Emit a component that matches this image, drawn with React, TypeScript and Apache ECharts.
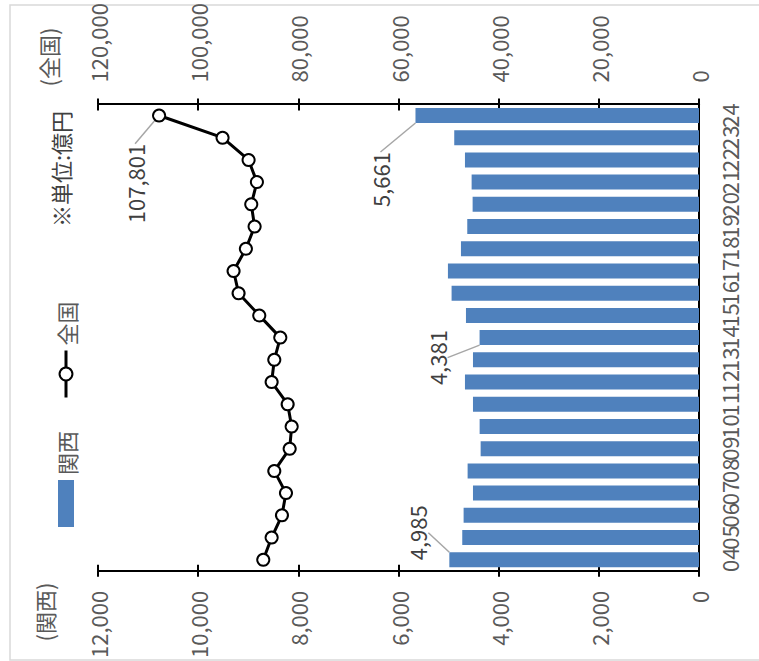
import React, { useEffect, useRef } from 'react';
import * as echarts from 'echarts';

// ---- data ----
const categories = ['04', '05', '06', '07', '08', '09', '10', '11', '12', '13', '14', '15', '16', '17', '18', '19', '20', '21', '22', '23', '24'];
const kansai = [4985, 4727, 4700, 4513, 4620, 4360, 4380, 4513, 4673, 4513, 4381, 4653, 4940, 5013, 4753, 4627, 4520, 4540, 4673, 4887, 5661];
const zenkoku = [87000, 85330, 83270, 82470, 84800, 81730, 81330, 82130, 85330, 84800, 83600, 87800, 91930, 92930, 90470, 88730, 89400, 88270, 89930, 95130, 107801];
const kansaiAxis = [0, 12000, 2000]; // min, max, interval
const zenkokuAxis = [0, 120000, 20000];
const kansaiLabeled = [0, 10, 20];
const zenkokuLabeled = [20];
const seriesNames = ['関西', '全国'];
const unitText = '※単位:億円';
const kansaiAxisTitle = '(関西)';
const zenkokuAxisTitle = '(全国)';

// ---- styles ----
const NUM_FONT = '"Liberation Sans Narrow", "Arial Narrow", "Noto Sans CJK JP", sans-serif';
const JP_FONT = '"Noto Sans CJK JP", sans-serif';
const GRAY = '#595959';
const barLabelOffsets: Record<number, [number, number]> = { 0: [27, -16], 10: [-20, -27], 20: [-64, -19] };
const lineLabelOffsets: Record<number, [number, number]> = { 20: [-68, -1] };

const fmt = (v: number) => Number(v).toLocaleString('en-US');

const W = 661; // unrotated chart width
const H = 759; // unrotated chart height

export default function App() {
  const ref = useRef<HTMLDivElement>(null);

  useEffect(() => {
    if (!ref.current) return;
    const chart = echarts.init(ref.current, undefined, { renderer: 'svg', width: W, height: H });

    const axisLineStyle = { show: true, lineStyle: { color: '#000', width: 2 } };
    const valueAxisBase = (range: number[], position: 'left' | 'right', margin: number) => ({
      type: 'value',
      position,
      min: range[0],
      max: range[1],
      interval: range[2],
      axisLine: axisLineStyle,
      axisTick: { show: true, inside: false, length: 6, lineStyle: { color: '#000', width: 2 } },
      axisLabel: { formatter: (v: number) => fmt(v), color: GRAY, fontSize: 22, fontFamily: NUM_FONT, margin },
      splitLine: { show: false },
    });
    const innerTickAxis = (range: number[], position: 'left' | 'right') => ({
      type: 'value',
      position,
      min: range[0],
      max: range[1],
      interval: range[2],
      axisLine: { show: false },
      axisTick: { show: true, inside: true, length: 6, lineStyle: { color: '#000', width: 2 } },
      axisLabel: { show: false },
      splitLine: { show: false },
    });

    const option: any = {
      animation: false,
      backgroundColor: '#fff',
      textStyle: { fontFamily: NUM_FONT },
      legend: {
        data: [{ name: seriesNames[0], icon: 'rect' }, { name: seriesNames[1] }],
        orient: 'horizontal',
        left: 129,
        top: 50,
        itemWidth: 47,
        itemHeight: 16,
        itemGap: 32,
        lineStyle: { width: 3, color: '#000' },
        textStyle: { color: GRAY, fontSize: 22, fontFamily: JP_FONT },
      },
      grid: { left: 83, right: 100, top: 98, bottom: 60, containLabel: false },
      xAxis: {
        type: 'category',
        data: categories,
        boundaryGap: true,
        axisLine: axisLineStyle,
        axisTick: { show: false },
        axisLabel: { interval: 0, color: GRAY, fontSize: 22, fontFamily: NUM_FONT, margin: 19 },
        splitLine: { show: false },
      },
      yAxis: [
        valueAxisBase(kansaiAxis, 'left', 20),
        valueAxisBase(zenkokuAxis, 'right', 22),
        innerTickAxis(kansaiAxis, 'left'),
        innerTickAxis(zenkokuAxis, 'right'),
      ],
      series: [
        {
          type: 'bar',
          name: seriesNames[0],
          yAxisIndex: 0,
          barWidth: 15,
          itemStyle: { color: '#4F81BD' },
          data: kansai.map((v, i) => (kansaiLabeled.includes(i) ? { value: v, label: { show: true } } : v)),
          label: {
            show: false,
            position: 'top',
            formatter: (p: any) => fmt(p.value),
            fontSize: 22,
            color: '#404040',
            fontFamily: NUM_FONT,
          },
          labelLine: { show: true, lineStyle: { color: '#A6A6A6', width: 1.5 } },
          labelLayout: (p: any) => {
            const o = barLabelOffsets[p.dataIndex];
            return o ? { dx: o[0], dy: o[1] } : {};
          },
        },
        {
          type: 'line',
          name: seriesNames[1],
          yAxisIndex: 1,
          symbol: 'circle',
          symbolSize: 12,
          lineStyle: { color: '#000', width: 3 },
          itemStyle: { color: '#fff', borderColor: '#000', borderWidth: 2 },
          data: zenkoku.map((v, i) => (zenkokuLabeled.includes(i) ? { value: v, label: { show: true } } : v)),
          label: {
            show: false,
            position: 'top',
            formatter: (p: any) => fmt(p.value),
            fontSize: 22,
            color: '#404040',
            fontFamily: NUM_FONT,
          },
          labelLine: { show: true, lineStyle: { color: '#A6A6A6', width: 1.5 } },
          labelLayout: (p: any) => {
            const o = lineLabelOffsets[p.dataIndex];
            return o ? { dx: o[0], dy: o[1] } : {};
          },
          z: 3,
        },
      ],
      graphic: [
        {
          type: 'rect',
          shape: { x: 1, y: 10, width: 655, height: 760 },
          style: { fill: 'none', stroke: '#D9D9D9', lineWidth: 1.5 },
          silent: true,
        },
        {
          type: 'text',
          x: 604,
          y: 48,
          style: { text: zenkokuAxisTitle, fill: GRAY, fontSize: 22, fontFamily: JP_FONT, textAlign: 'center', textVerticalAlign: 'middle' },
        },
        {
          type: 'text',
          x: 49,
          y: 44,
          style: { text: kansaiAxisTitle, fill: GRAY, fontSize: 22, fontFamily: JP_FONT, textAlign: 'center', textVerticalAlign: 'middle' },
        },
        {
          type: 'text',
          x: 492,
          y: 60,
          style: { text: unitText, fill: '#404040', fontSize: 22, fontFamily: JP_FONT, textAlign: 'center', textVerticalAlign: 'middle' },
        },
      ],
    };

    chart.setOption(option);
    return () => chart.dispose();
  }, []);

  return (
    <div style={{ position: 'absolute', left: 0, top: 0, width: 759, height: 661, overflow: 'hidden', background: '#fff' }}>
      <div
        style={{
          position: 'absolute',
          left: 0,
          top: 0,
          width: W,
          height: H,
          transformOrigin: '0 0',
          transform: `translate(0px, ${W}px) rotate(-90deg)`,
        }}
      >
        <div ref={ref} style={{ width: W, height: H }} />
      </div>
    </div>
  );
}
